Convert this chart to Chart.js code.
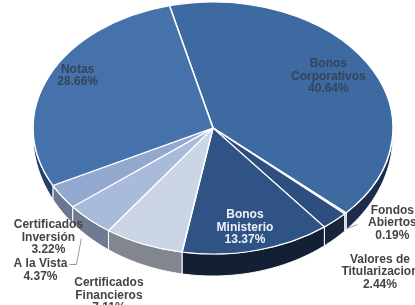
<!DOCTYPE html>
<html lang="es">
<head>
  <meta charset="UTF-8">
  <title>Composición del portafolio</title>
  <script src="https://cdn.jsdelivr.net/npm/chart.js"></script>
  <style>
    html, body { margin: 0; padding: 0; background: #fff; }
    #wrap { width: 415px; height: 305px; }
  </style>
</head>
<body>
  <div id="wrap"><canvas id="chart" width="415" height="305"></canvas></div>

  <script>
    // datos (en el orden de las agujas del reloj)
    const labels = ['Bonos Corporativos', 'Fondos Abiertos', 'Valores de Titularizacion', 'Bonos Ministerio',
                    'Certificados Financieros', 'A la Vista', 'Certificados Inversión', 'Notas'];
    const values = [40.64, 0.19, 2.44, 13.37, 7.11, 4.37, 3.22, 28.66];
    const labelLines = [['Bonos', 'Corporativos'], ['Fondos', 'Abiertos'], ['Valores de', 'Titularizacion'],
                        ['Bonos', 'Ministerio'], ['Certificados', 'Financieros'], ['A la Vista'],
                        ['Certificados', 'Inversión'], ['Notas']];

    const topColors  = ['#3e6aa2', '#b8c5dc', '#2d4e7e', '#2f5384', '#cbd5e6', '#a9badb', '#93a8cf', '#4572ab'];
    const sideColors = ['#1c2d4b', '#8a94a6', '#17253d', '#131f35', '#82868f', '#6f7b90', '#68778f', '#26406a'];
    const textColors = ['#34445a', '#444444', '#444444', '#eef2f8', '#444444', '#444444', '#444444', '#34445a'];

    // posición de las etiquetas: factor de radio y ajuste de ángulo (grados)
    const labelR     = [0.76, 1.25, 1.47, 0.81, 1.45, 1.48, 1.26, 0.86];
    const labelShift = [-1.7, -5.5, 3.5, 1.5, 0.8, -3.0, -10.5, 4.6];

    // elipse de la cara superior
    const CX = 213, CY = 128, RX = 180, RY = 126;
    const DMIN = 7, DMAX = 22;

    const depth = a => DMIN + (DMAX - DMIN) * Math.max(0, Math.sin(a));
    const ell = (a, dy) => [CX + RX * Math.cos(a), CY + RY * Math.sin(a) + (dy || 0)];

    const pie3d = {
      id: 'pie3d',
      beforeDatasetsDraw(chart) {
        const ctx = chart.ctx;
        const arcs = chart.getDatasetMeta(0).data;
        // lados visibles (mitad inferior)
        arcs.forEach((arc, i) => {
          const s = Math.max(arc.startAngle, 0);
          const e = Math.min(arc.endAngle, Math.PI);
          if (s >= e) return;
          ctx.save();
          ctx.beginPath();
          ctx.ellipse(CX, CY, RX, RY, 0, s, e);
          const n = Math.max(2, Math.ceil((e - s) * 60));
          for (let k = 0; k <= n; k++) {
            const a = e - (e - s) * k / n;
            const p = ell(a, depth(a));
            ctx.lineTo(p[0], p[1]);
          }
          ctx.closePath();
          ctx.fillStyle = sideColors[i];
          ctx.fill();
          ctx.strokeStyle = '#ffffff';
          ctx.lineWidth = 1;
          ctx.stroke();
          ctx.restore();
        });
        const a0 = arcs[0];
        ctx.save();
        ctx.translate(CX, CY);
        ctx.scale(RX / a0.outerRadius, RY / a0.outerRadius);
        ctx.translate(-a0.x, -a0.y);
      },
      afterDatasetsDraw(chart) {
        chart.ctx.restore();
      },
      afterDraw(chart) {
        const ctx = chart.ctx;
        const arcs = chart.getDatasetMeta(0).data;
        ctx.save();
        ctx.font = 'bold 12px "Liberation Sans", Arial, sans-serif';
        ctx.textAlign = 'center';
        ctx.textBaseline = 'middle';
        arcs.forEach((arc, i) => {
          const mid = (arc.startAngle + arc.endAngle) / 2 + labelShift[i] * Math.PI / 180;
          const x = CX + RX * labelR[i] * Math.cos(mid);
          const y = CY + RY * labelR[i] * Math.sin(mid);
          const lines = labelLines[i].concat([values[i].toFixed(2) + '%']);
          const lh = 12.5;
          const y0 = y - (lines.length - 1) * lh / 2;
          ctx.fillStyle = textColors[i];
          lines.forEach((t, k) => ctx.fillText(t, x, y0 + k * lh));
        });

        // líneas guía
        ctx.strokeStyle = '#9a9a9a';
        ctx.lineWidth = 1;
        const vista = arcs[5];
        let m = (vista.startAngle + vista.endAngle) / 2;
        let p = ell(m, depth(m));
        ctx.beginPath();
        ctx.moveTo(p[0] - 8, p[1] + 1);
        ctx.lineTo(p[0] - 13, p[1] + 27);
        ctx.lineTo(p[0] - 20, p[1] + 27);
        ctx.stroke();
        const fondos = arcs[1];
        m = (fondos.startAngle + fondos.endAngle) / 2;
        p = ell(m, depth(m));
        ctx.beginPath();
        ctx.moveTo(p[0] + 2, p[1] - 2);
        ctx.lineTo(p[0] + 12, p[1] - 6);
        ctx.stroke();
        ctx.restore();
      }
    };

    new Chart(document.getElementById('chart').getContext('2d'), {
      type: 'pie',
      data: {
        labels: labels,
        datasets: [{
          data: values,
          backgroundColor: topColors,
          borderColor: '#ffffff',
          borderWidth: 1.3,
          clip: false
        }]
      },
      options: {
        responsive: false,
        animation: false,
        rotation: -14,
        layout: { padding: 0 },
        plugins: {
          legend: { display: false },
          tooltip: { enabled: false }
        }
      },
      plugins: [pie3d]
    });
  </script>
</body>
</html>
